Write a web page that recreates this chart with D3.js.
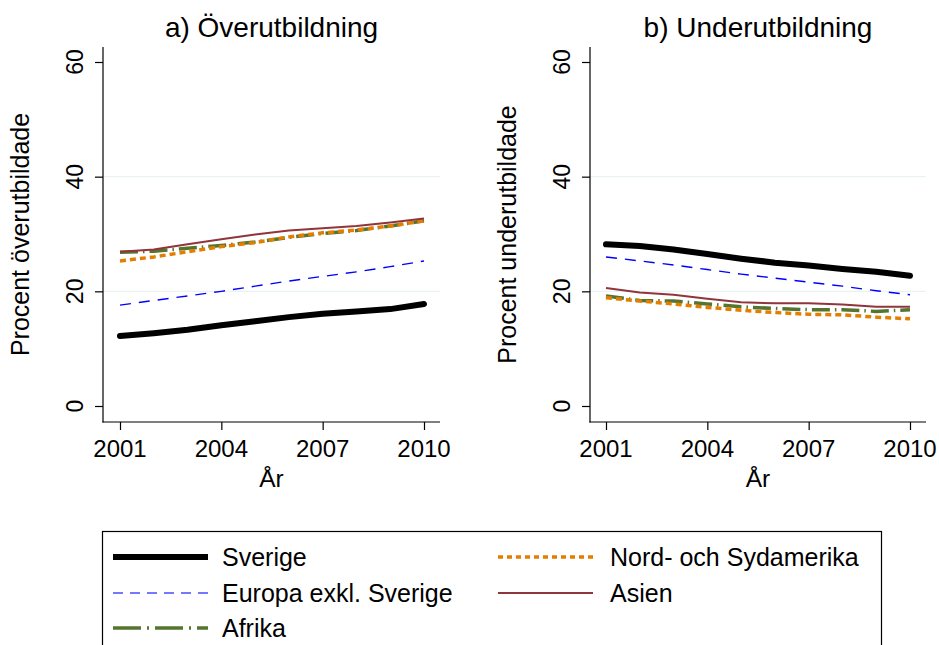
<!DOCTYPE html>
<html><head><meta charset="utf-8">
<script src="https://cdn.jsdelivr.net/npm/d3@7"></script>
<style>html,body{margin:0;padding:0;background:#fff;}svg{display:block;}text{font-family:"Liberation Sans",Arial,Helvetica,sans-serif;fill:#000;}</style>
</head><body>
<svg id="chart" width="939" height="645"></svg>
<script>
const years = [2001,2002,2003,2004,2005,2006,2007,2008,2009,2010];
const xTicks = [2001,2004,2007,2010];
const yTicks = [0,20,40,60];
const gridTicks = [20,40];
const seriesNames = ["Sverige","Europa exkl. Sverige","Afrika","Nord- och Sydamerika","Asien"];

// a) Överutbildning
const overSverige = [12.2,12.7,13.3,14.1,14.8,15.5,16.1,16.5,16.9,17.8];
const overEuropa  = [17.6,18.4,19.2,20.0,20.9,21.8,22.6,23.4,24.3,25.3];
const overAfrika  = [26.8,27.0,27.5,28.0,28.6,29.4,30.1,30.6,31.4,32.3];
const overAmerika = [25.3,26.0,26.9,27.8,28.5,29.5,30.2,30.7,31.4,32.3];
const overAsien   = [26.9,27.3,28.2,29.1,29.9,30.6,31.0,31.4,32.0,32.7];

// b) Underutbildning
const underSverige = [28.2,27.9,27.3,26.5,25.7,25.0,24.5,23.9,23.4,22.7];
const underEuropa  = [26.0,25.3,24.6,23.8,23.0,22.3,21.6,20.9,20.1,19.4];
const underAfrika  = [19.2,18.4,18.3,17.8,17.3,17.0,16.8,16.8,16.5,16.8];
const underAmerika = [18.9,18.3,17.8,17.2,16.7,16.3,16.0,15.9,15.5,15.2];
const underAsien   = [20.6,19.8,19.4,18.7,18.1,17.9,17.9,17.7,17.3,17.3];

const styles = [
  {color:"#000000", width:6,   dash:null,          legDash:null},
  {color:"#0000ff", width:1.4, dash:"11,8",        legDash:"10,7", legColor:"#4a4aff"},
  {color:"#55752f", width:3.5, dash:"18,5,1.5,5",  legDash:"28,6,2,6"},
  {color:"#e37e00", width:3.5, dash:"6,4",         legDash:"5,4"},
  {color:"#90353b", width:2,   dash:null,          legDash:null}
];

const panels = [
  {title:"a) Överutbildning", ytitle:"Procent överutbildade", x0:103, x1:440, xa:120, xb:424,
   data:[overSverige,overEuropa,overAfrika,overAmerika,overAsien]},
  {title:"b) Underutbildning", ytitle:"Procent underutbildade", x0:590, x1:926, xa:606, xb:910,
   data:[underSverige,underEuropa,underAfrika,underAmerika,underAsien]}
];

const svg = d3.select("#chart");
const yTop = 47, yBot = 422;

function htext(g, x, y, str, size, anchor, sx){
  return g.append("text").attr("transform",`translate(${x},${y}) scale(${sx||1},1)`)
    .attr("text-anchor",anchor||"middle").style("font-size",size+"px").text(str);
}

panels.forEach(p=>{
  const g = svg.append("g");
  const x = d3.scaleLinear().domain([2001,2010]).range([p.xa,p.xb]);
  const y = d3.scaleLinear().domain([0,60]).range([406,62]);
  // grid
  g.selectAll(".grid").data(gridTicks).enter().append("line")
    .attr("x1",p.x0).attr("x2",p.x1).attr("y1",d=>y(d)).attr("y2",d=>y(d))
    .attr("stroke","#eaf2f3").attr("stroke-width",1.2);
  // axes
  const ya = g.append("g").attr("transform",`translate(${p.x0},0)`)
    .call(d3.axisLeft(y).tickValues(yTicks).tickSize(8).tickFormat(""));
  ya.select(".domain").remove();
  ya.selectAll("line").attr("stroke","#000").attr("stroke-width",1.2);
  const xa = g.append("g").attr("transform",`translate(0,${yBot})`)
    .call(d3.axisBottom(x).tickValues(xTicks).tickSize(8).tickFormat(""));
  xa.select(".domain").remove();
  xa.selectAll("line").attr("stroke","#000").attr("stroke-width",1.2);
  g.append("line").attr("x1",p.x0).attr("x2",p.x0).attr("y1",yTop).attr("y2",yBot+0.6).attr("stroke","#000").attr("stroke-width",1.2);
  g.append("line").attr("x1",p.x0-0.6).attr("x2",p.x1).attr("y1",yBot).attr("y2",yBot).attr("stroke","#000").attr("stroke-width",1.2);
  // tick labels
  yTicks.forEach(t=>{
    g.append("text").attr("transform",`translate(${p.x0-20},${y(t)}) rotate(-90)`)
      .attr("text-anchor","middle").style("font-size","23px").text(t);
  });
  xTicks.forEach(t=>{ htext(g, x(t), 457, String(t), 24, "middle", 1); });
  const cx = (p.x0+p.x1)/2;
  htext(g, cx, 487, "År", 24.5);
  htext(g, cx, 37, p.title, 28);
  g.append("text").attr("transform",`translate(${p.x0-74},${(yTop+yBot)/2}) rotate(-90)`)
    .attr("text-anchor","middle").style("font-size","25px").text(p.ytitle);
  // lines
  const line = d3.line().x((d,i)=>x(years[i])).y(d=>y(d));
  p.data.forEach((arr,k)=>{
    const s = styles[k];
    g.append("path").datum(arr).attr("d",line).attr("fill","none")
      .attr("stroke",s.color).attr("stroke-width",s.width)
      .attr("stroke-dasharray",s.dash)
      .attr("stroke-linecap", k===0 ? "round" : "butt")
      .attr("stroke-linejoin","round");
  });
});

// legend
const lg = svg.append("g");
lg.append("rect").attr("x",102.5).attr("y",531.5).attr("width",779).attr("height",130)
  .attr("fill","#fff").attr("stroke","#000").attr("stroke-width",1.2);
const legPos = [
  {lx:113, tx:222, y:557},{lx:113, tx:222, y:593},{lx:113, tx:222, y:628},
  {lx:498, tx:610, y:557},{lx:498, tx:610, y:593}
];
seriesNames.forEach((n,k)=>{
  const s = styles[k], p = legPos[k];
  lg.append("line").attr("x1",p.lx).attr("x2",p.lx+95).attr("y1",p.y).attr("y2",p.y)
    .attr("stroke",s.legColor||s.color).attr("stroke-width",s.width)
    .attr("stroke-dasharray",s.legDash);
  htext(lg, p.tx, p.y+8.5, n, 25, "start");
});
</script>
</body></html>
